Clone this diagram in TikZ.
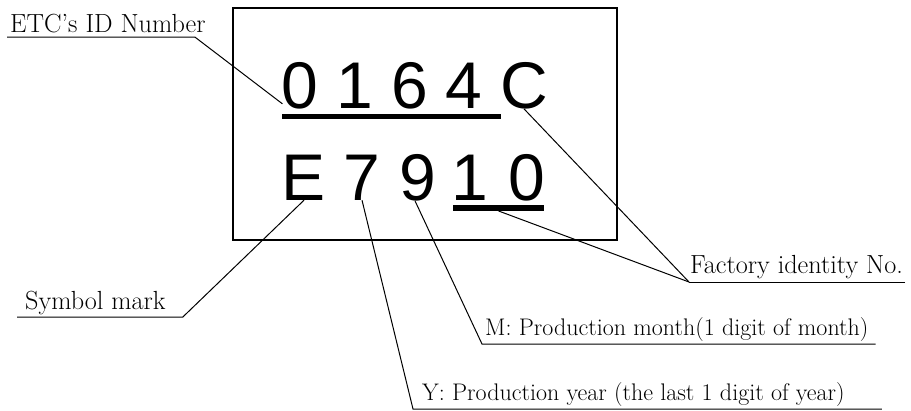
\documentclass[tikz,border=0pt]{standalone}
\usepackage{fontspec}
\newfontfamily\digitfont{Liberation Sans}
\begin{document}
\begin{tikzpicture}[x=1pt,y=-1pt,
  digit/.style={font=\digitfont\fontsize{66}{66}\selectfont, inner sep=0pt, anchor=base},
  caption/.style={font=\fontsize{26.2}{26.2}\selectfont, inner sep=0pt, anchor=base west},
  longcaption/.style={caption, font=\fontsize{24}{24}\selectfont},
  leader/.style={line width=1pt},
  bar/.style={fill=black, inner sep=0pt, minimum height=5.5pt},
  plate/.style={draw, line width=1.2pt, inner sep=0pt}]
\useasboundingbox (0,0) rectangle (911,410);

% the marking plate
\node[plate, minimum width=384pt, minimum height=232pt] (frame) at (425,124) {};

% first row: ID number and factory letter
\node[digit] (d0) at (300,108) {0};
\node[digit] (d1) at (355,108) {1};
\node[digit] (d6) at (410,108) {6};
\node[digit] (d4) at (464,108) {4};
\node[digit] (dC) at (524,108) {C};
\node[bar, minimum width=219pt] (idbar) at (391.5,116.5) {};

% second row: symbol, year, month, factory digits
\node[digit] (dE) at (304,200) {E};
\node[digit] (d7) at (362,200) {7};
\node[digit] (d9) at (418,200) {9};
\node[digit] (d1b) at (470,200) {1};
\node[digit] (d0b) at (527,200) {0};
\node[bar, minimum width=91pt] (fbar) at (498.5,208) {};

% captions
\node[caption] (lid) at (10,32) {ETC's ID Number};
\node[caption] (lsym) at (25,309) {Symbol mark};
\node[caption] (lfac) at (690,273) {Factory identity No.};
\node[longcaption] (lmon) at (485,335) {M: Production month(1 digit of month)};
\node[longcaption] (lyr) at (422,400) {Y: Production year (the last 1 digit of year)};

% underlines and leader lines
\draw[leader] ([shift={(-3,5)}]lid.base west) -- ([shift={(-11,5)}]lid.base east)
  -- ([shift={(1,-5)}]d0.south west);
\draw[leader] ([shift={(-8,8)}]lsym.base west) -- ([shift={(17,8)}]lsym.base east)
  -- (dE.south);
\draw[leader] ([shift={(2,9)}]lfac.base east) -- ([shift={(-1,9)}]lfac.base west)
  coordinate (fjoin);
\draw[leader] (fjoin) -- (dC.south);
\draw[leader] (fjoin) -- (fbar.south);
\draw[leader] ([shift={(7,9)}]lmon.base east) -- ([shift={(-3,9)}]lmon.base west)
  -- ([shift={(-3,0)}]d9.south);
\draw[leader] ([shift={(37,9)}]lyr.base east) -- ([shift={(-9,9)}]lyr.base west)
  -- (d7.south);
\end{tikzpicture}
\end{document}
